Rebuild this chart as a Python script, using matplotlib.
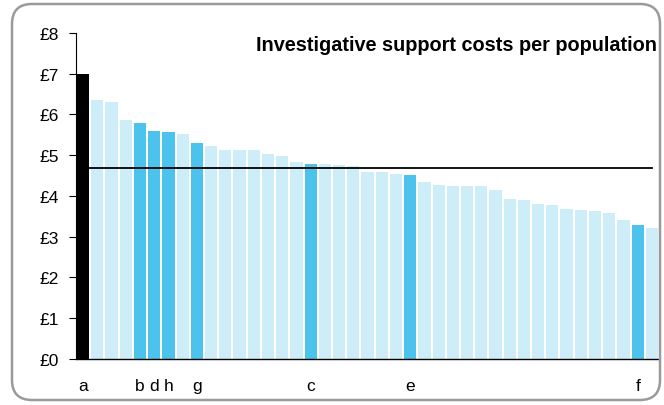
import matplotlib.pyplot as plt
from matplotlib.patches import FancyBboxPatch

# bar values (£ per population)
costs = [7.00, 6.36, 6.31, 5.87, 5.78, 5.60, 5.58, 5.53, 5.31, 5.22,
         5.14, 5.14, 5.13, 5.03, 4.99, 4.83, 4.79, 4.79, 4.76, 4.73,
         4.60, 4.59, 4.54, 4.52, 4.34, 4.28, 4.25, 4.25, 4.25, 4.15,
         3.93, 3.90, 3.81, 3.78, 3.69, 3.66, 3.64, 3.59, 3.41, 3.30, 3.22]
average = 4.68
# labelled forces and the bar they sit on
labels = ['a', 'b', 'd', 'h', 'g', 'c', 'e', 'f']
label_pos = [0, 4, 5, 6, 8, 16, 23, 39]
y_ticks = [0, 1, 2, 3, 4, 5, 6, 7, 8]

light = '#cdedf9'
strong = '#4bc3ec'

plt.rcParams['font.family'] = ['Liberation Sans', 'DejaVu Sans']

fig = plt.figure(figsize=(6.64, 4.06), dpi=100)
ax = fig.add_axes([0.1145, 0.1133, 0.878, 0.803])

colors = []
for i in range(len(costs)):
    if i == 0:
        colors.append('black')
    elif i in label_pos:
        colors.append(strong)
    else:
        colors.append(light)

x = list(range(len(costs)))
ax.bar(x, costs, width=0.86, color=colors, edgecolor='none', zorder=2)
ax.plot([0, len(costs) - 1], [average, average], color='black', lw=1.3, zorder=3)

ax.set_xlim(-0.5, len(costs) - 0.5)
ax.set_ylim(0, 8)
ax.set_yticks(y_ticks)
ax.set_yticklabels(['£%d' % t for t in y_ticks], fontsize=12.5)
ax.set_xticks(label_pos)
ax.set_xticklabels(labels, fontsize=12.5)
ax.tick_params(axis='x', length=0, pad=14)
ax.tick_params(axis='y', length=5, width=0.8, direction='out', pad=7)
ax.spines['top'].set_visible(False)
ax.spines['right'].set_visible(False)
ax.spines['left'].set_linewidth(0.8)
ax.spines['bottom'].set_linewidth(1.0)

ax.text(0.997, 0.995, 'Investigative support costs per population',
        transform=ax.transAxes, ha='right', va='top',
        fontsize=14.3, fontweight='bold')

# rounded grey frame around the whole chart
frame = FancyBboxPatch((12, 5), 648, 396, boxstyle='round,pad=0,rounding_size=20',
                       transform=None, fill=False, edgecolor='#9a9a9a', lw=1.8)
fig.patches.append(frame)

fig.savefig('out.png', dpi=100)
